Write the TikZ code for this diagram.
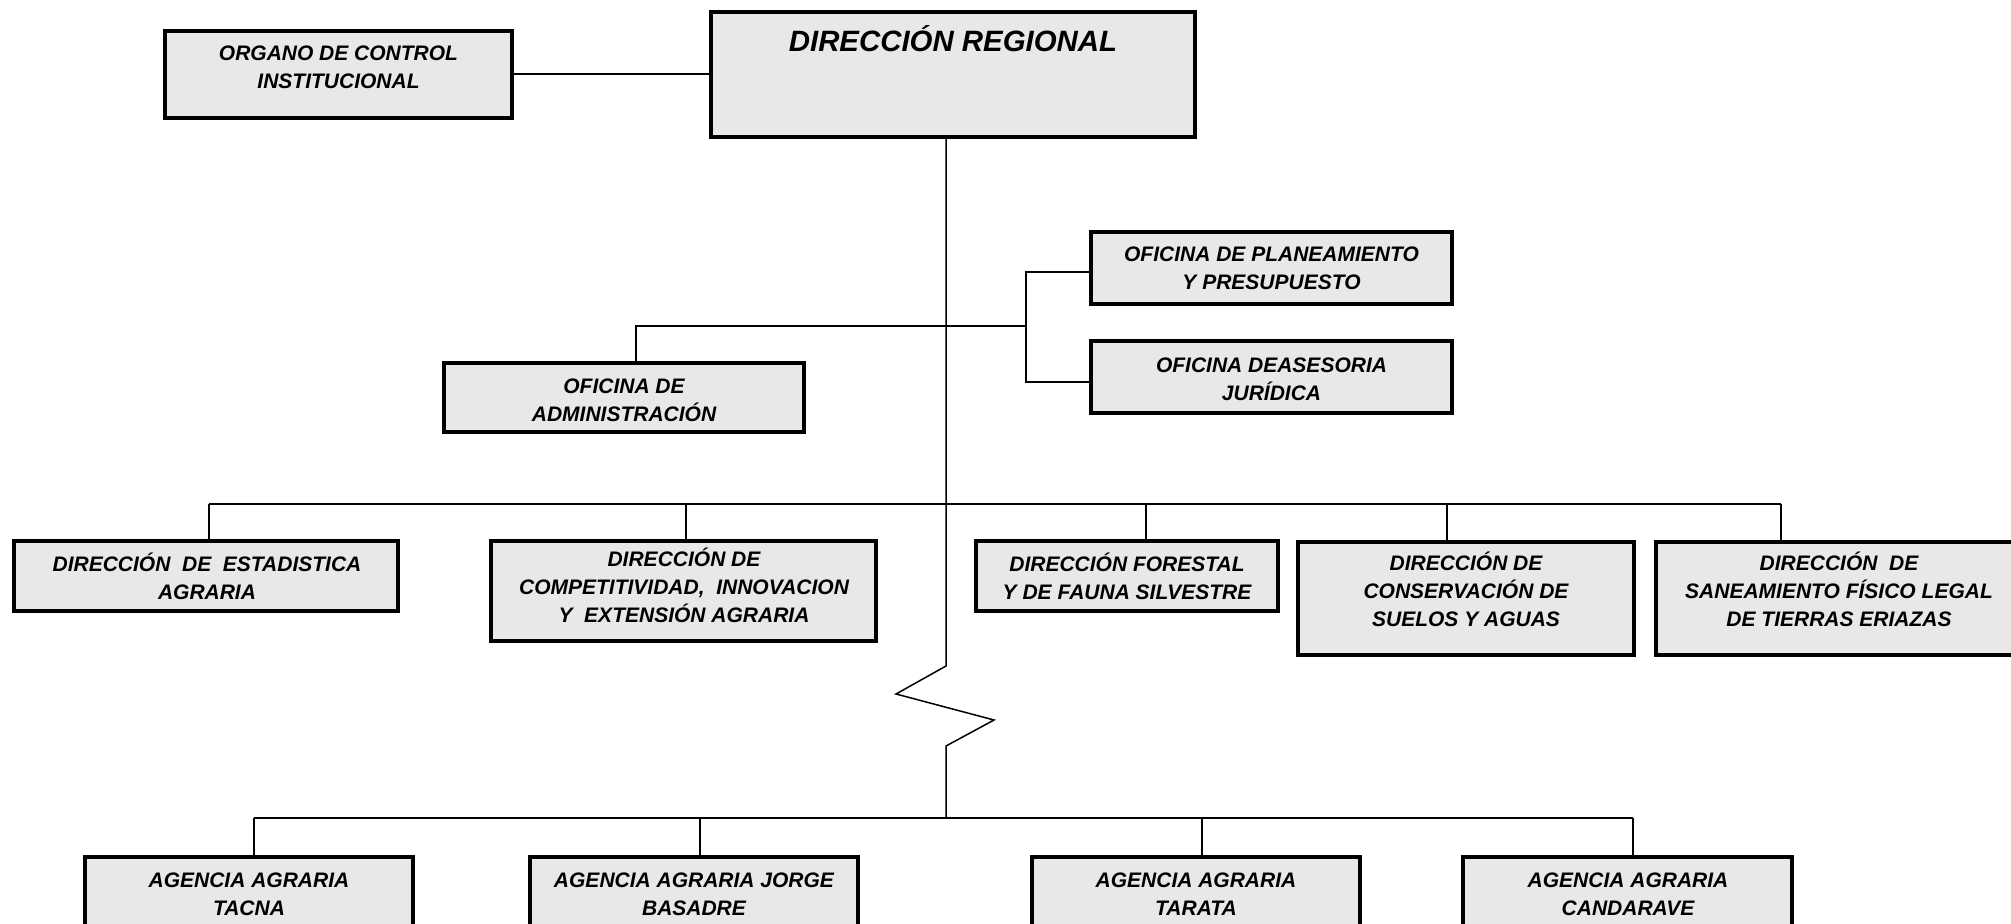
\documentclass[tikz,border=0pt]{standalone}
\usepackage{fontspec}
\setmainfont{Liberation Sans}
\usetikzlibrary{calc}
\definecolor{boxfill}{HTML}{E8E8E8}
\newcommand\ls{\rule[-3pt]{0pt}{13pt}}
\newcommand\bx[5]{\node[box, minimum width={(#4-#2)*0.5pt}, minimum height={(#5-#3)*0.5pt}] (#1) at ({(#2+#4)/2},{(#3+#5)/2}) {};}
\begin{document}
\begin{tikzpicture}[x=0.5pt, y=-0.5pt,
  box/.style={draw=black, line width=1.8pt, fill=boxfill, inner sep=0pt},
  lbl/.style={font=\fontsize{10.5}{12.5}\selectfont\bfseries\itshape, align=center, inner sep=0pt},
  conn/.style={line width=1pt},
  trunk/.style={line width=0.75pt}]
\useasboundingbox (0,0) rectangle (2011,924);
\clip (0,0) rectangle (2011,924);
\fill[white] (0,0) rectangle (2011,924);

% boxes
\bx{org}{165}{31}{512}{118}
\bx{dr}{711}{12}{1195}{137}
\bx{plan}{1091}{232}{1452}{304}
\bx{jur}{1091}{341}{1452}{413}
\bx{adm}{444}{363}{804}{432}
\bx{est}{14}{541}{398}{611}
\bx{comp}{491}{541}{876}{641}
\bx{fore}{976}{541}{1278}{611}
\bx{cons}{1298}{542}{1634}{655}
\bx{san}{1656}{542}{2040}{655}
\bx{tac}{85}{857}{413}{980}
\bx{jor}{530}{857}{858}{980}
\bx{tar}{1032}{857}{1360}{980}
\bx{can}{1463}{857}{1792}{980}

% coordinates
\coordinate (tk) at (946,0);
\coordinate (z0) at (946,666);
\coordinate (z1) at (896,694);
\coordinate (z2) at (994,720);
\coordinate (z3) at (946,746);
\coordinate (z4) at (946,818);
\coordinate (ad) at (636,326);
\coordinate (jn) at (1026,326);
\coordinate (pj) at (1026,272);
\coordinate (jj) at (1026,382);
\coordinate (m1) at (209,504);
\coordinate (m2) at (685.5,504);
\coordinate (m3) at (1146,504);
\coordinate (m4) at (1447,504);
\coordinate (m5) at (1781,504);
\coordinate (b1) at (254,818);
\coordinate (b2) at (700,818);
\coordinate (b3) at (1202,818);
\coordinate (b4) at (1632.5,818);

% connectors
\draw[conn] (org.east) -- (org.east -| dr.west);
\draw[trunk] (dr.south -| tk) -- (z0) -- (z1) -- (z2) -- (z3) -- (z4);
\draw[conn] (ad |- adm.north) -- (ad) -- (jn);
\draw[conn] (pj -| plan.west) -- (pj) -- (jj) -- (jj -| jur.west);
\draw[conn] (m1) -- (m5);
\draw[conn] (m1) -- (m1 |- est.north);
\draw[conn] (m2) -- (m2 |- comp.north);
\draw[conn] (m3) -- (m3 |- fore.north);
\draw[conn] (m4) -- (m4 |- cons.north);
\draw[conn] (m5) -- (m5 |- san.north);
\draw[conn] (b1) -- (b4);
\draw[conn] (b1) -- (b1 |- tac.north);
\draw[conn] (b2) -- (b2 |- jor.north);
\draw[conn] (b3) -- (b3 |- tar.north);
\draw[conn] (b4) -- (b4 |- can.north);

% labels
\node[lbl] (orgT) at (338.5,67.5) {\ls ORGANO DE CONTROL\\\ls INSTITUCIONAL};
\node[lbl, font=\fontsize{14.7}{17}\selectfont\bfseries\itshape, anchor=base] (drT) at (953,52) {DIRECCIÓN REGIONAL};
\node[lbl] (planT) at (1271.5,268.5) {\ls OFICINA DE PLANEAMIENTO\\\ls Y PRESUPUESTO};
\node[lbl] (jurT) at (1271.5,380) {\ls OFICINA DEASESORIA\\\ls JURÍDICA};
\node[lbl] (admT) at (624,401) {\ls OFICINA DE\\\ls ADMINISTRACIÓN};
\node[lbl] (estT) at (207,578.5) {\ls DIRECCIÓN\ \ DE\ \ ESTADISTICA\\\ls AGRARIA};
\node[lbl] (compT) at (684,587) {\ls DIRECCIÓN DE\\\ls COMPETITIVIDAD,\ \ INNOVACION\\\ls Y\ \ EXTENSIÓN AGRARIA};
\node[lbl] (foreT) at (1127,578.5) {\ls DIRECCIÓN FORESTAL\\\ls Y DE FAUNA SILVESTRE};
\node[lbl] (consT) at (1466,591) {\ls DIRECCIÓN DE\\\ls CONSERVACIÓN DE\\\ls SUELOS Y AGUAS};
\node[lbl] (sanT) at (1839,591) {\ls DIRECCIÓN\ \ DE\\\ls SANEAMIENTO FÍSICO LEGAL\\\ls DE TIERRAS ERIAZAS};
\node[lbl] (tacT) at (249,894) {\ls AGENCIA AGRARIA\\\ls TACNA};
\node[lbl] (jorT) at (694,894) {\ls AGENCIA AGRARIA JORGE\\\ls BASADRE};
\node[lbl] (tarT) at (1196,894) {\ls AGENCIA AGRARIA\\\ls TARATA};
\node[lbl] (canT) at (1628,894) {\ls AGENCIA AGRARIA\\\ls CANDARAVE};
\end{tikzpicture}
\end{document}
